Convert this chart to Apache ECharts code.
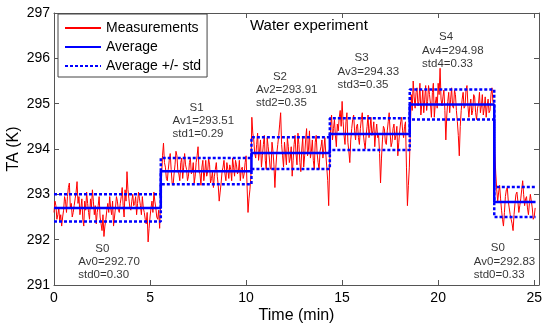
<!DOCTYPE html>
<html><head><meta charset="utf-8">
<script src="https://cdn.jsdelivr.net/npm/echarts@6/dist/echarts.min.js"></script>
<style>html,body{margin:0;padding:0;background:#fff}#c{width:550px;height:327px}</style>
</head><body><div id="c"></div>
<script>
// ---- data ----
const sampleStep = 0.05; // minutes between measurements
// measurements of each stage, with the time (min) of their first sample
const measStart = [0, 5.6, 10.3, 14.4, 18.6, 22.95];
const measS0 = [
 292.60,292.85,292.75,292.45,292.55,292.70,292.40,292.55,292.30,292.50,
 292.65,292.95,292.85,292.60,292.95,293.15,293.25,292.70,292.80,292.50,
 292.60,292.75,292.90,293.05,293.28,292.80,292.95,292.55,292.70,292.90,
 292.45,292.30,292.85,292.65,293.05,292.80,292.60,292.45,292.90,292.70,
 293.10,292.85,292.55,292.75,292.35,292.60,292.75,292.95,292.50,292.35,
 292.20,292.55,292.07,292.30,292.45,292.65,292.80,292.60,292.95,292.70,
 292.55,292.85,292.30,292.50,292.70,292.95,292.85,292.65,292.60,292.80,
 292.95,293.15,292.75,292.50,293.10,292.85,293.50,293.10,292.90,292.70,
 292.65,292.85,293.00,292.75,292.80,292.95,292.55,292.80,293.05,292.90,
 292.75,292.55,292.95,292.70,292.60,292.45,292.35,292.60,291.95,292.25,
 292.50,292.70,292.85,292.60,293.05,292.85,292.70,292.50,292.45,292.65,
 292.25];
const measS1 = [
 293.40,293.85,294.13,293.70,293.60,293.35,293.30,293.55,293.75,293.90,
 293.55,293.25,293.20,293.45,293.65,293.95,293.85,293.50,293.45,293.30,
 293.70,293.80,293.35,293.60,293.90,293.65,293.55,293.30,293.40,293.70,
 293.80,293.45,293.50,293.70,293.25,293.40,293.70,293.85,294.05,293.50,
 293.45,293.20,293.60,293.75,293.30,293.50,293.75,293.40,293.50,293.80,
 293.65,293.25,293.35,293.50,293.15,293.40,293.55,293.70,293.40,293.20,
 292.85,293.05,293.25,293.50,293.60,293.75,293.45,293.30,293.70,293.55,
 293.35,293.65,293.55,293.30,293.80,293.60,293.40,293.75,293.65,293.45,
 293.50,293.75,293.30,293.55,293.60,293.35,293.45,293.70,293.85,293.20,
 292.60,292.90,293.10,293.40];
const measS2 = [
 294.70,294.35,294.20,293.90,293.80,294.10,294.35,293.75,293.95,294.20,
 293.60,293.85,294.10,294.30,293.75,293.55,294.25,294.05,293.85,293.60,
 293.55,294.15,293.95,293.65,293.15,293.60,293.90,294.10,294.30,294.55,
 294.80,294.10,293.85,293.60,294.15,293.90,293.65,294.25,294.05,293.70,
 293.80,294.05,293.40,293.75,294.10,294.30,293.90,293.65,294.35,294.10,
 293.70,293.50,294.00,294.25,293.60,293.85,294.20,294.45,293.85,294.00,
 294.40,293.80,293.95,294.20,293.75,293.55,294.15,294.30,293.90,293.70,
 293.55,293.95,294.05,294.20,293.80,294.00,294.25,293.90,293.60,293.30,
 292.75];
const measS3 = [
 294.50,294.75,294.20,294.45,294.65,294.30,294.05,294.55,294.40,294.70,
 294.85,294.50,295.05,294.60,294.30,294.10,294.60,294.80,294.15,293.95,
 293.70,294.20,294.45,294.65,294.75,294.40,294.20,294.50,294.55,294.25,
 294.10,294.45,294.65,294.80,294.35,294.15,294.00,294.30,294.50,294.75,
 294.25,294.45,294.70,294.30,294.40,294.60,294.05,294.35,294.55,294.25,
 294.30,293.90,293.25,293.80,294.20,294.50,294.45,294.15,294.10,294.40,
 294.60,294.80,294.35,294.05,294.15,294.45,294.55,294.20,294.30,294.50,
 293.85,294.15,294.40,294.60,294.70,294.40,294.25,294.50,294.60,293.60,
 292.75,293.20,293.60];
const measS4 = [
 295.20,294.85,295.50,295.15,294.90,295.25,295.35,294.95,295.05,295.45,
 294.75,295.00,295.30,294.80,295.10,295.40,294.85,295.05,295.40,295.20,
 295.00,294.70,295.25,295.45,294.70,295.00,295.15,294.90,295.45,295.20,
 295.78,295.10,294.95,295.15,295.30,294.85,294.20,294.75,295.05,295.25,
 294.80,295.10,295.35,294.95,294.90,295.30,295.20,294.85,294.60,294.30,
 293.85,294.50,294.85,295.10,295.25,294.90,294.95,295.30,295.40,294.95,
 294.70,294.95,295.10,294.75,294.85,295.20,295.15,294.80,294.65,294.90,
 295.00,295.25,294.80,294.95,295.20,294.75,294.90,295.15,294.70,294.95,
 295.10,294.80,294.85,295.20,295.35,295.05,294.95];
const measS0b = [
 293.90,293.45,293.10,292.85,293.05,293.20,292.90,292.65,292.45,292.30,
 292.60,292.95,293.10,293.15,292.85,292.70,292.55,292.45,292.35,292.20,
 292.55,292.80,293.00,293.05,292.85,292.60,292.75,292.90,293.10,293.30,
 293.00,292.75,292.90,292.95,292.70,292.55,292.80,293.00,292.85,292.70,
 292.45,292.50,292.70];

const segmentNames = ['S0','S1','S2','S3','S4','S0'];
const segmentIds   = ['0','1','2','3','4','0'];
const segmentStart = [0, 5.56, 10.28, 14.36, 18.52, 22.92];
const segmentEnd   = [5.56, 10.28, 14.36, 18.52, 22.92, 25.07];
const segmentMean  = [292.70, 293.51, 293.91, 294.33, 294.98, 292.83];
const segmentStd   = [0.30, 0.29, 0.35, 0.35, 0.33, 0.33];
// annotation anchors (data units): left edge / top of text block
const noteX = [1.29, 6.20, 10.54, 14.79, 19.19, 21.88];
const noteY = [291.94, 295.05, 295.73, 296.14, 296.60, 291.95];
const xMin = 0, xMax = 25.25, xStep = 5;
const yMin = 291, yMax = 297, yStep = 1;

// ---- build ----
const FONT = '"Liberation Sans", Arial, Helvetica, sans-serif';
const measSegments = [measS0, measS1, measS2, measS3, measS4, measS0b];
const measData = [];
measSegments.forEach((arr, s) => arr.forEach((v, i) =>
  measData.push([+(measStart[s] + i * sampleStep).toFixed(3), v])));
function stepData(offset) {
  const out = [];
  segmentMean.forEach((m, i) => {
    const v = m + offset * segmentStd[i];
    out.push([segmentStart[i], v], [segmentEnd[i], v]);
  });
  return out;
}
const noteData = noteX.map((x, i) => [x, noteY[i]]);

const axisCol = '#555';
function xAx(pos, labels) {
  return {
    type: 'value', min: xMin, max: xMax, interval: xStep, position: pos,
    axisLine: {show: true, onZero: false, lineStyle: {color: axisCol, width: 1}},
    axisTick: {show: true, inside: true, length: 5, lineStyle: {color: axisCol}},
    axisLabel: {show: labels, color: '#000', fontSize: 14, fontFamily: FONT, margin: 6, showMaxLabel: false},
    splitLine: {show: false},
    name: labels ? 'Time (min)' : '', nameLocation: 'middle', nameGap: 23, nameMoveOverlap: false,
    nameTextStyle: {color: '#000', fontSize: 16, fontFamily: FONT}
  };
}
function yAx(pos, labels) {
  return {
    type: 'value', min: yMin, max: yMax, interval: yStep, position: pos,
    axisLine: {show: true, onZero: false, lineStyle: {color: axisCol, width: 1}},
    axisTick: {show: true, inside: true, length: 5, lineStyle: {color: axisCol}},
    axisLabel: {show: labels, color: '#000', fontSize: 14, fontFamily: FONT, margin: 4},
    splitLine: {show: false},
    name: labels ? 'TA (K)' : '', nameLocation: 'middle', nameGap: 32, nameRotate: 90, nameMoveOverlap: false,
    nameTextStyle: {color: '#000', fontSize: 16, fontFamily: FONT}
  };
}

const chart = echarts.init(document.getElementById('c'), null, {renderer: 'canvas'});
chart.setOption({
  animation: false,
  backgroundColor: '#fff',
  grid: {left: 54, right: 11, top: 13, bottom: 42, containLabel: false, outerBoundsMode: 'none'},
  title: {text: 'Water experiment', left: 250, top: 18, padding: 0,
    textStyle: {fontSize: 15, fontWeight: 'normal', color: '#000', fontFamily: FONT}},
  legend: {
    left: 58, top: 14, orient: 'vertical', padding: [7, 6, 4, 6], itemGap: 5,
    itemWidth: 36, itemHeight: 14, backgroundColor: '#fff', borderColor: '#444', borderWidth: 1,
    borderRadius: 0, itemStyle: {opacity: 0},
    textStyle: {fontSize: 14, color: '#000', fontFamily: FONT},
    data: ['Measurements', 'Average', 'Average +/- std']
  },
  xAxis: [xAx('bottom', true), xAx('top', false)],
  yAxis: [yAx('left', true), yAx('right', false)],
  series: [
    {name: 'Measurements', type: 'line', data: measData, showSymbol: false, symbol: 'none',
      lineStyle: {color: '#ff0000', width: 1}, itemStyle: {color: '#ff0000'}, z: 2},
    {name: 'Average', type: 'line', data: stepData(0), showSymbol: false, symbol: 'none',
      lineStyle: {color: '#0000ff', width: 2.5}, itemStyle: {color: '#0000ff'}, z: 3},
    {name: 'Average +/- std', type: 'line', data: stepData(1), showSymbol: false, symbol: 'none',
      lineStyle: {color: '#0000ff', width: 2.5, type: [3, 2]}, itemStyle: {color: '#0000ff'}, z: 3},
    {name: 'Average +/- std', type: 'line', data: stepData(-1), showSymbol: false, symbol: 'none',
      lineStyle: {color: '#0000ff', width: 2.5, type: [3, 2]}, itemStyle: {color: '#0000ff'}, z: 3},
    {name: 'notes', type: 'scatter', data: noteData, symbolSize: 1,
      itemStyle: {color: 'rgba(0,0,0,0)'}, silent: true, z: 5,
      label: {show: true, position: [0, 0], align: 'left', verticalAlign: 'top',
        color: '#000', fontSize: 11.5, lineHeight: 13.3, fontFamily: FONT,
        formatter: p => {
          const i = p.dataIndex;
          return '{s|' + segmentNames[i] + '}\nAv' + segmentIds[i] + '=' + segmentMean[i].toFixed(2) +
            '\nstd' + segmentIds[i] + '=' + segmentStd[i].toFixed(2);
        },
        rich: {s: {padding: [0, 0, 0, 17], fontSize: 11.5, lineHeight: 13.3, color: '#000', fontFamily: FONT}}
      }}
  ]
});
</script></body></html>
